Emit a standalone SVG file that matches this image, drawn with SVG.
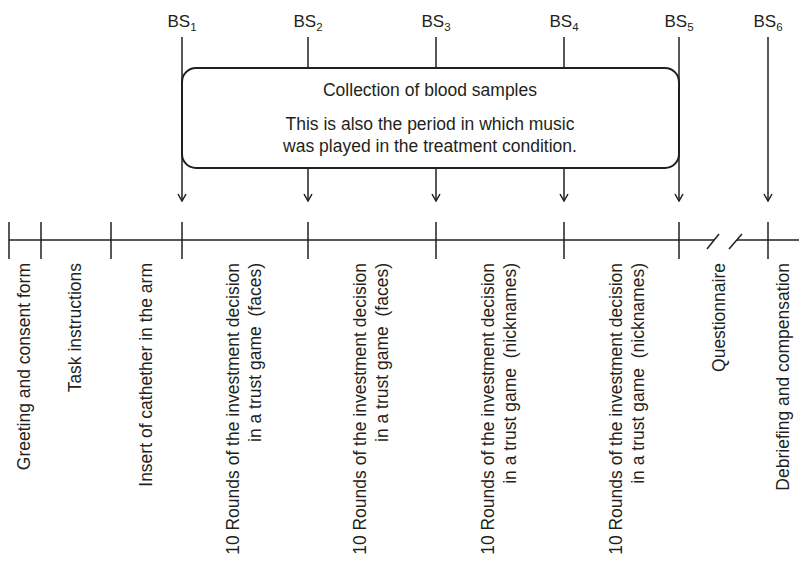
<svg xmlns="http://www.w3.org/2000/svg" width="799" height="561" viewBox="0 0 799 561">
<style>
  text { font-family: "Liberation Sans", Arial, sans-serif; fill: #231f20; }
  .lbl { font-size: 17.5px; text-anchor: end; white-space: pre; }
  .bs { font-size: 17px; text-anchor: middle; }
  .sub { font-size: 11.5px; }
  .box { fill: #ffffff; stroke: #231f20; stroke-width: 2; }
  .boxt { font-size: 17.5px; text-anchor: middle; }
  .ln { stroke: #231f20; stroke-width: 1.5; fill: none; }
  .tick { stroke: #231f20; stroke-width: 1.5; }
</style>
<defs>
  <marker id="arr" viewBox="0 0 10 10" refX="9.5" refY="5" markerWidth="10" markerHeight="10" markerUnits="userSpaceOnUse" orient="auto">
    <path d="M2.5,1 L9.5,5 L2.5,9" fill="none" stroke="#231f20" stroke-width="1.5"/>
  </marker>
</defs>

<g id="timeline">
  <line class="ln" x1="9" y1="240" x2="714" y2="240"/>
  <line class="ln" x1="737" y1="240" x2="799" y2="240"/>
  <line class="ln" x1="707" y1="249" x2="719" y2="234"/>
  <line class="ln" x1="729" y1="249" x2="742" y2="234"/>
  <line class="tick" x1="9" y1="222" x2="9" y2="259"/>
  <line class="tick" x1="41" y1="222" x2="41" y2="259"/>
  <line class="tick" x1="111" y1="222" x2="111" y2="259"/>
  <line class="tick" x1="182" y1="222" x2="182" y2="259"/>
  <line class="tick" x1="308" y1="222" x2="308" y2="259"/>
  <line class="tick" x1="436" y1="222" x2="436" y2="259"/>
  <line class="tick" x1="564" y1="222" x2="564" y2="259"/>
  <line class="tick" x1="679" y1="222" x2="679" y2="259"/>
  <line class="tick" x1="768" y1="222" x2="768" y2="259"/>
</g>

<g id="collection-box">
  <rect class="box" x="182" y="68" width="497" height="100" rx="14" ry="14"/>
  <text class="boxt" x="430" y="96">Collection of blood samples</text>
  <text class="boxt" x="430" y="130">This is also the period in which music</text>
  <text class="boxt" x="430" y="151.5">was played in the treatment condition.</text>
</g>

<g id="connectors">
  <line class="ln" x1="182" y1="37" x2="182" y2="201" marker-end="url(#arr)"/>
  <line class="ln" x1="308" y1="37" x2="308" y2="68"/>
  <line class="ln" x1="308" y1="168" x2="308" y2="201" marker-end="url(#arr)"/>
  <line class="ln" x1="436" y1="37" x2="436" y2="68"/>
  <line class="ln" x1="436" y1="168" x2="436" y2="201" marker-end="url(#arr)"/>
  <line class="ln" x1="564" y1="37" x2="564" y2="68"/>
  <line class="ln" x1="564" y1="168" x2="564" y2="201" marker-end="url(#arr)"/>
  <line class="ln" x1="679" y1="37" x2="679" y2="201" marker-end="url(#arr)"/>
  <line class="ln" x1="768" y1="37" x2="768" y2="201" marker-end="url(#arr)"/>
</g>

<g id="bs1"><text class="bs" x="182" y="27">BS<tspan class="sub" dy="4">1</tspan></text></g>
<g id="bs2"><text class="bs" x="308" y="27">BS<tspan class="sub" dy="4">2</tspan></text></g>
<g id="bs3"><text class="bs" x="436" y="27">BS<tspan class="sub" dy="4">3</tspan></text></g>
<g id="bs4"><text class="bs" x="564" y="27">BS<tspan class="sub" dy="4">4</tspan></text></g>
<g id="bs5"><text class="bs" x="679" y="27">BS<tspan class="sub" dy="4">5</tspan></text></g>
<g id="bs6"><text class="bs" x="768" y="27">BS<tspan class="sub" dy="4">6</tspan></text></g>

<g id="step-greeting">
  <text class="lbl" transform="translate(30,263) rotate(-90)">Greeting and consent form</text>
</g>
<g id="step-instructions">
  <text class="lbl" transform="translate(81,263) rotate(-90)">Task instructions</text>
</g>
<g id="step-catheter">
  <text class="lbl" transform="translate(152,263) rotate(-90)">Insert of cathether in the arm</text>
</g>
<g id="step-rounds1">
  <text class="lbl" transform="translate(239,263) rotate(-90)">10 Rounds of the investment decision</text>
  <text class="lbl" transform="translate(260.5,263) rotate(-90)">in a trust game  (faces)</text>
</g>
<g id="step-rounds2">
  <text class="lbl" transform="translate(366,263) rotate(-90)">10 Rounds of the investment decision</text>
  <text class="lbl" transform="translate(387.5,263) rotate(-90)">in a trust game  (faces)</text>
</g>
<g id="step-rounds3">
  <text class="lbl" transform="translate(494,263) rotate(-90)">10 Rounds of the investment decision</text>
  <text class="lbl" transform="translate(515.5,263) rotate(-90)">in a trust game  (nicknames)</text>
</g>
<g id="step-rounds4">
  <text class="lbl" transform="translate(622,263) rotate(-90)">10 Rounds of the investment decision</text>
  <text class="lbl" transform="translate(643.5,263) rotate(-90)">in a trust game  (nicknames)</text>
</g>
<g id="step-questionnaire">
  <text class="lbl" transform="translate(725,263) rotate(-90)">Questionnaire</text>
</g>
<g id="step-debriefing">
  <text class="lbl" transform="translate(789,263) rotate(-90)">Debriefing and compensation</text>
</g>
</svg>
